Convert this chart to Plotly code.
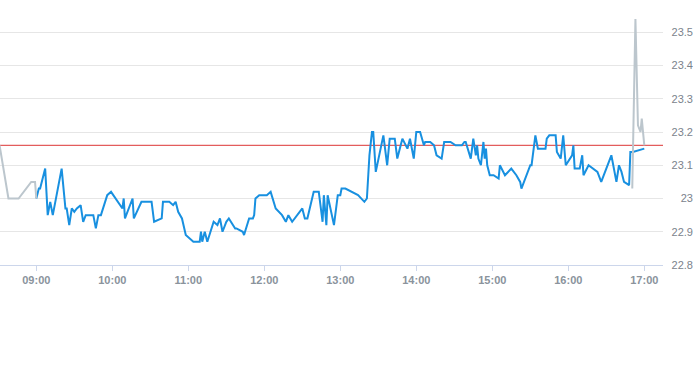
import plotly.graph_objects as go

DAY = "2024-01-02"

PRE_TIMES = ["08:31", "08:38", "08:46", "08:56", "08:59", "09:00"]
PRE_PRICES = [23.16, 23.00, 23.00, 23.05, 23.05, 23.00]

MAIN_TIMES = [
    "09:00", "09:02", "09:03", "09:07", "09:09", "09:11", "09:13", "09:20", "09:23", "09:24",
    "09:26", "09:28", "09:30", "09:32", "09:35", "09:37", "09:39", "09:45", "09:47", "09:49",
    "09:51", "09:56", "09:59", "10:04", "10:08", "10:09", "10:10", "10:16", "10:17", "10:23",
    "10:31", "10:33", "10:39", "10:40", "10:45", "10:48", "10:50", "10:52", "10:55", "10:58",
    "11:04", "11:09", "11:10", "11:11", "11:13", "11:15", "11:20", "11:23", "11:25", "11:27",
    "11:30", "11:32", "11:37", "11:38", "11:43", "11:44", "11:48", "11:51", "11:52", "11:53",
    "11:56", "12:02", "12:05", "12:09", "12:14", "12:17", "12:19", "12:22", "12:30", "12:32",
    "12:34", "12:39", "12:43", "12:46", "12:47", "12:49", "12:50", "12:55", "12:58", "13:00",
    "13:01", "13:04", "13:09", "13:14", "13:19", "13:21", "13:23", "13:25", "13:26", "13:28",
    "13:34", "13:37", "13:39", "13:43", "13:45", "13:49", "13:53", "13:55", "13:56", "13:58",
    "14:00", "14:03", "14:06", "14:07", "14:11", "14:14", "14:16", "14:20", "14:22", "14:27",
    "14:31", "14:36", "14:38", "14:39", "14:43", "14:45", "14:47", "14:48", "14:49", "14:51",
    "14:53", "14:54", "14:55", "14:56", "14:58", "15:01", "15:05", "15:06", "15:10", "15:15",
    "15:19", "15:22", "15:23", "15:30", "15:31", "15:34", "15:36", "15:42", "15:43", "15:45",
    "15:50", "15:51", "15:54", "15:56", "15:58", "16:03", "16:04", "16:05", "16:09", "16:11",
    "16:12", "16:16", "16:23", "16:26", "16:34", "16:38", "16:40", "16:42", "16:44", "16:48",
    "16:49", "16:51", "17:00",
]
MAIN_PRICES = [
    23.00, 23.03, 23.03, 23.09, 22.95, 22.99, 22.95, 23.09, 22.97, 22.97,
    22.92, 22.97, 22.96, 22.97, 22.98, 22.93, 22.95, 22.95, 22.91, 22.95,
    22.95, 23.01, 23.02, 22.99, 22.97, 23.00, 22.94, 23.00, 22.94, 22.99,
    22.99, 22.93, 22.94, 22.99, 22.99, 22.98, 22.99, 22.96, 22.94, 22.89,
    22.87, 22.87, 22.90, 22.87, 22.90, 22.87, 22.93, 22.92, 22.94, 22.90,
    22.93, 22.94, 22.91, 22.91, 22.90, 22.89, 22.94, 22.94, 22.95, 23.00,
    23.01, 23.01, 23.02, 22.97, 22.95, 22.93, 22.95, 22.93, 22.97, 22.94,
    22.94, 23.02, 23.02, 22.93, 23.01, 22.92, 23.01, 22.92, 23.01, 23.01,
    23.03, 23.03, 23.02, 23.01, 22.99, 23.00, 23.13, 23.20, 23.20, 23.08,
    23.19, 23.10, 23.18, 23.18, 23.12, 23.18, 23.15, 23.18, 23.16, 23.12,
    23.20, 23.20, 23.16, 23.17, 23.17, 23.16, 23.13, 23.12, 23.17, 23.17,
    23.16, 23.16, 23.17, 23.17, 23.12, 23.18, 23.13, 23.16, 23.12, 23.10,
    23.17, 23.12, 23.15, 23.10, 23.07, 23.07, 23.06, 23.10, 23.07, 23.09,
    23.07, 23.05, 23.03, 23.10, 23.10, 23.19, 23.15, 23.15, 23.18, 23.19,
    23.19, 23.14, 23.12, 23.19, 23.10, 23.13, 23.16, 23.09, 23.09, 23.13,
    23.07, 23.10, 23.08, 23.05, 23.13, 23.05, 23.10, 23.08, 23.05, 23.04,
    23.14, 23.14, 23.15,
]

POST_TIMES = ["16:50:30", "16:53", "16:55", "16:57", "16:58", "16:59", "17:00"]
POST_PRICES = [23.03, 23.54, 23.22, 23.20, 23.24, 23.20, 23.16]

PREV_CLOSE = 23.16
Y_TICKS = [22.8, 22.9, 23.0, 23.1, 23.2, 23.3, 23.4, 23.5]
Y_TICK_TEXT = ["22.8", "22.9", "23", "23.1", "23.2", "23.3", "23.4", "23.5"]
X_RANGE = ["08:31:20", "17:14:46"]


def ts(t):
    return f"{DAY} {t}" if len(t) > 5 else f"{DAY} {t}:00"


fig = go.Figure()
fig.add_trace(go.Scatter(x=[ts(t) for t in MAIN_TIMES], y=MAIN_PRICES, mode="lines",
                         line=dict(color="#1890e0", width=2), hoverinfo="skip"))
fig.add_trace(go.Scatter(x=[ts(t) for t in PRE_TIMES], y=PRE_PRICES, mode="lines",
                         line=dict(color="#bcc6cd", width=2), hoverinfo="skip"))
fig.add_trace(go.Scatter(x=[ts(t) for t in POST_TIMES], y=POST_PRICES, mode="lines",
                         line=dict(color="#bcc6cd", width=2), hoverinfo="skip"))
fig.add_hline(y=PREV_CLOSE, line=dict(color="#dd3535", width=1), layer="below")

fig.update_layout(
    width=693, height=365,
    margin=dict(l=0, r=0, t=0, b=100),
    plot_bgcolor="white", paper_bgcolor="white",
    showlegend=False,
    font=dict(family="Liberation Sans, Arial, sans-serif"),
    xaxis=dict(
        domain=[0, 663 / 693],
        type="date",
        range=[ts(X_RANGE[0]), ts(X_RANGE[1])],
        tick0=ts("09:00"), dtick=3600000, tickformat="%H:%M",
        showgrid=False, zeroline=False,
        showline=True, linecolor="#ccd6eb", linewidth=1,
        ticks="outside", ticklen=5, tickcolor="#ccd6eb",
        tickfont=dict(size=11, color="#8a939c", family="Liberation Sans, Arial, sans-serif", weight="bold"),
    ),
    yaxis=dict(
        range=[22.8, 23.597],
        side="left", anchor="free", position=1.0,
        tickvals=Y_TICKS, ticktext=Y_TICK_TEXT,
        showgrid=True, gridcolor="#e6e6e6", gridwidth=1,
        zeroline=False, showline=False, ticks="",
        ticklabelposition="outside", ticklabelstandoff=0,
        tickfont=dict(size=11, color="#7b838c"),
    ),
)

fig.write_html(
    "out.html",
    config={"displayModeBar": False, "staticPlot": True},
    post_script="document.body.style.margin='0';document.body.style.overflow='hidden';",
)
